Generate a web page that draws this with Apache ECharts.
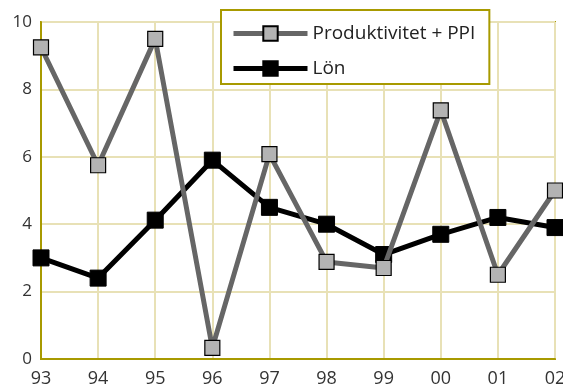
<!DOCTYPE html>
<html><head><meta charset="utf-8">
<script src="https://cdn.jsdelivr.net/npm/echarts@6/dist/echarts.min.js"></script>
<style>html,body{margin:0;padding:0;background:#fff}#c{width:563px;height:388px}</style>
</head><body><div id="c"></div>
<script>
const categories = ['93','94','95','96','97','98','99','00','01','02'];
const produktivitet = [9.25, 5.75, 9.5, 0.33, 6.08, 2.88, 2.7, 7.38, 2.5, 5.0];
const lon = [3.0, 2.4, 4.12, 5.9, 4.5, 4.0, 3.1, 3.7, 4.2, 3.9];
const yTicks = [0, 2, 4, 6, 8, 10];

const font = '"Open Sans", "Noto Sans", sans-serif';
const chart = echarts.init(document.getElementById('c'));
chart.setOption({
  animation: false,
  backgroundColor: '#fff',
  grid: { left: 41, right: 8, top: 22, bottom: 29, show: true, borderColor: '#a89a00', borderWidth: 2,
    backgroundColor: 'transparent', containLabel: false, outerBoundsMode: 'none' },
  legend: {
    left: 221, top: 10, orient: 'vertical',
    backgroundColor: '#fff', borderColor: '#a89a00', borderWidth: 2,
    padding: [14, 14, 6, 10], itemGap: 16, itemWidth: 74, itemHeight: 18,
    lineStyle: { width: 5 },
    textStyle: { fontFamily: font, fontSize: 19, color: '#222' },
    data: ['Produktivitet + PPI', 'Lön']
  },
  xAxis: {
    type: 'category', data: categories, boundaryGap: false,
    axisLine: { show: true, lineStyle: { color: '#a89a00', width: 2 } },
    axisTick: { show: false },
    axisLabel: { fontFamily: font, fontSize: 18, color: '#333', margin: 11 },
    splitLine: { show: true, lineStyle: { color: '#e8e1b6', width: 2 } }
  },
  yAxis: {
    type: 'value', min: 0, max: 10, interval: 2,
    axisLine: { show: true, lineStyle: { color: '#a89a00', width: 2 } },
    axisTick: { show: false },
    axisLabel: { fontFamily: font, fontSize: 17, color: '#333', margin: 9,
      formatter: v => yTicks.includes(v) ? String(v) : '' },
    splitLine: { show: true, lineStyle: { color: '#e8e1b6', width: 2 } }
  },
  series: [
    { name: 'Produktivitet + PPI', type: 'line', data: produktivitet, z: 4,
      symbol: 'rect', symbolSize: 15, showAllSymbol: true,
      lineStyle: { color: '#666666', width: 5 },
      itemStyle: { color: '#b3b3b3', borderColor: '#000', borderWidth: 1.2 } },
    { name: 'Lön', type: 'line', data: lon, z: 3,
      symbol: 'rect', symbolSize: 16, showAllSymbol: true,
      lineStyle: { color: '#000', width: 5 },
      itemStyle: { color: '#000', borderColor: '#000', borderWidth: 1 } }
  ]
});
</script></body></html>
